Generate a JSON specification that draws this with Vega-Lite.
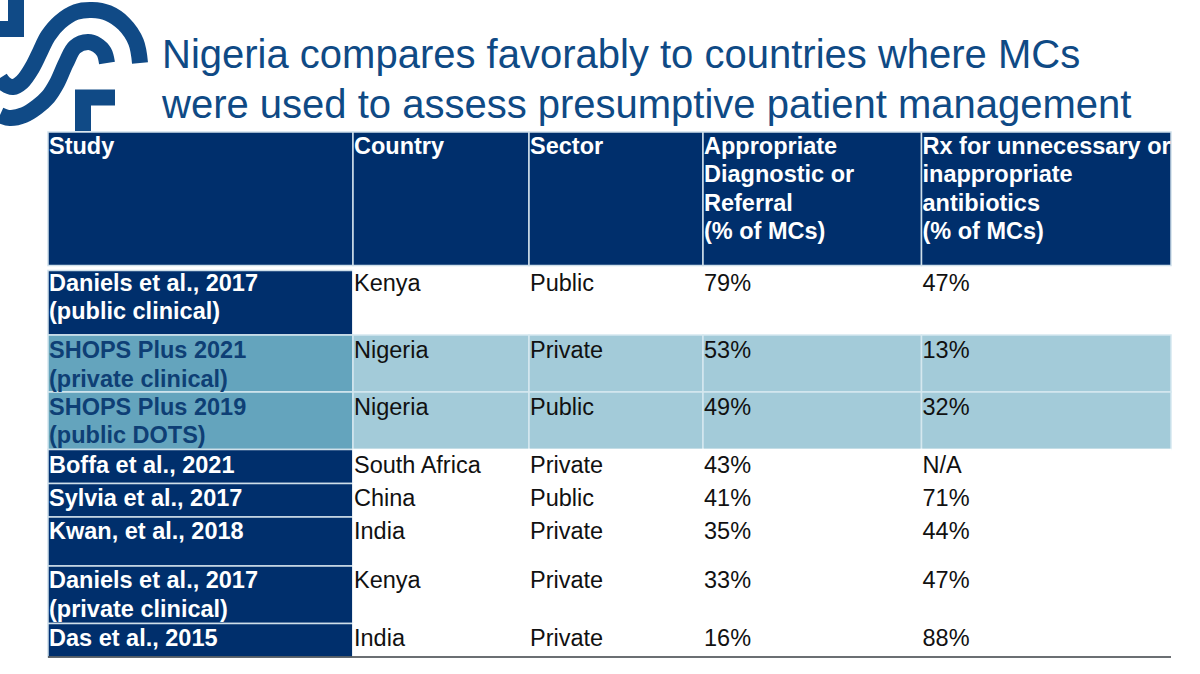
{"$schema":"https://vega.github.io/schema/vega-lite/v6.json","width":1200,"height":674,"padding":0,"autosize":"none","background":"white","config":{"view":{"stroke":null}},
"title":{"text":["Nigeria compares favorably to countries where MCs","were used to assess presumptive patient management"],"anchor":"start","frame":"group","offset":0,"dx":162,"dy":190,"baseline":"alphabetic","font":"Liberation Sans","fontSize":40,"fontWeight":"normal","color":"#0f4a85","lineHeight":50},
"datasets":{
"cells":[
{"row":0,"rowEnd":0.9,"col":0,"colEnd":1,"kind":"header","label":"Study"},
{"row":0,"rowEnd":0.9,"col":1,"colEnd":2,"kind":"header","label":"Country"},
{"row":0,"rowEnd":0.9,"col":2,"colEnd":3,"kind":"header","label":"Sector"},
{"row":0,"rowEnd":0.9,"col":3,"colEnd":4,"kind":"header","label":"Appropriate\nDiagnostic or\nReferral\n(% of MCs)"},
{"row":0,"rowEnd":0.9,"col":4,"colEnd":5,"kind":"header","label":"Rx for unnecessary or\ninappropriate\nantibiotics\n(% of MCs)"},
{"row":1,"rowEnd":2,"col":0,"colEnd":1,"kind":"study","label":"Daniels et al., 2017\n(public clinical)"},
{"row":1,"rowEnd":2,"col":1,"colEnd":2,"kind":"plain","label":"Kenya"},
{"row":1,"rowEnd":2,"col":2,"colEnd":3,"kind":"plain","label":"Public"},
{"row":1,"rowEnd":2,"col":3,"colEnd":4,"kind":"plain","label":"79%"},
{"row":1,"rowEnd":2,"col":4,"colEnd":5,"kind":"plain","label":"47%"},
{"row":2,"rowEnd":3,"col":0,"colEnd":1,"kind":"shops","label":"SHOPS Plus 2021\n(private clinical)"},
{"row":2,"rowEnd":3,"col":1,"colEnd":2,"kind":"shopsCell","label":"Nigeria"},
{"row":2,"rowEnd":3,"col":2,"colEnd":3,"kind":"shopsCell","label":"Private"},
{"row":2,"rowEnd":3,"col":3,"colEnd":4,"kind":"shopsCell","label":"53%"},
{"row":2,"rowEnd":3,"col":4,"colEnd":5,"kind":"shopsCell","label":"13%"},
{"row":3,"rowEnd":4,"col":0,"colEnd":1,"kind":"shops","label":"SHOPS Plus 2019\n(public DOTS)"},
{"row":3,"rowEnd":4,"col":1,"colEnd":2,"kind":"shopsCell","label":"Nigeria"},
{"row":3,"rowEnd":4,"col":2,"colEnd":3,"kind":"shopsCell","label":"Public"},
{"row":3,"rowEnd":4,"col":3,"colEnd":4,"kind":"shopsCell","label":"49%"},
{"row":3,"rowEnd":4,"col":4,"colEnd":5,"kind":"shopsCell","label":"32%"},
{"row":4,"rowEnd":5,"col":0,"colEnd":1,"kind":"study","label":"Boffa et al., 2021"},
{"row":4,"rowEnd":5,"col":1,"colEnd":2,"kind":"plain","label":"South Africa"},
{"row":4,"rowEnd":5,"col":2,"colEnd":3,"kind":"plain","label":"Private"},
{"row":4,"rowEnd":5,"col":3,"colEnd":4,"kind":"plain","label":"43%"},
{"row":4,"rowEnd":5,"col":4,"colEnd":5,"kind":"plain","label":"N/A"},
{"row":5,"rowEnd":6,"col":0,"colEnd":1,"kind":"study","label":"Sylvia et al., 2017"},
{"row":5,"rowEnd":6,"col":1,"colEnd":2,"kind":"plain","label":"China"},
{"row":5,"rowEnd":6,"col":2,"colEnd":3,"kind":"plain","label":"Public"},
{"row":5,"rowEnd":6,"col":3,"colEnd":4,"kind":"plain","label":"41%"},
{"row":5,"rowEnd":6,"col":4,"colEnd":5,"kind":"plain","label":"71%"},
{"row":6,"rowEnd":7,"col":0,"colEnd":1,"kind":"study","label":"Kwan, et al., 2018"},
{"row":6,"rowEnd":7,"col":1,"colEnd":2,"kind":"plain","label":"India"},
{"row":6,"rowEnd":7,"col":2,"colEnd":3,"kind":"plain","label":"Private"},
{"row":6,"rowEnd":7,"col":3,"colEnd":4,"kind":"plain","label":"35%"},
{"row":6,"rowEnd":7,"col":4,"colEnd":5,"kind":"plain","label":"44%"},
{"row":7,"rowEnd":8,"col":0,"colEnd":1,"kind":"study","label":"Daniels et al., 2017\n(private clinical)"},
{"row":7,"rowEnd":8,"col":1,"colEnd":2,"kind":"plain","label":"Kenya"},
{"row":7,"rowEnd":8,"col":2,"colEnd":3,"kind":"plain","label":"Private"},
{"row":7,"rowEnd":8,"col":3,"colEnd":4,"kind":"plain","label":"33%"},
{"row":7,"rowEnd":8,"col":4,"colEnd":5,"kind":"plain","label":"47%"},
{"row":8,"rowEnd":9,"col":0,"colEnd":1,"kind":"study","label":"Das et al., 2015"},
{"row":8,"rowEnd":9,"col":1,"colEnd":2,"kind":"plain","label":"India"},
{"row":8,"rowEnd":9,"col":2,"colEnd":3,"kind":"plain","label":"Private"},
{"row":8,"rowEnd":9,"col":3,"colEnd":4,"kind":"plain","label":"16%"},
{"row":8,"rowEnd":9,"col":4,"colEnd":5,"kind":"plain","label":"88%"}
],
"baseline":[{"row":9,"col":0,"colEnd":5}],
"logoCurves":[
{"part":"a","o":1,"px":140,"py":63},{"part":"a","o":2,"px":136,"py":42},{"part":"a","o":3,"px":124,"py":24},{"part":"a","o":4,"px":108,"py":13},{"part":"a","o":5,"px":92,"py":10},{"part":"a","o":6,"px":76,"py":12},{"part":"a","o":7,"px":60,"py":22},{"part":"a","o":8,"px":48,"py":36},{"part":"a","o":9,"px":40,"py":52},{"part":"a","o":10,"px":32,"py":68},{"part":"a","o":11,"px":22,"py":82},{"part":"a","o":12,"px":13,"py":87},{"part":"a","o":13,"px":5,"py":84},{"part":"a","o":14,"px":0,"py":78},
{"part":"b","o":1,"px":107,"py":63},{"part":"b","o":2,"px":104,"py":52},{"part":"b","o":3,"px":97,"py":45},{"part":"b","o":4,"px":88,"py":42},{"part":"b","o":5,"px":75,"py":47},{"part":"b","o":6,"px":66,"py":63},{"part":"b","o":7,"px":57,"py":83},{"part":"b","o":8,"px":48,"py":97},{"part":"b","o":9,"px":37,"py":107},{"part":"b","o":10,"px":24,"py":115},{"part":"b","o":11,"px":10,"py":118},{"part":"b","o":12,"px":0,"py":115}
],
"logoBlocks":[
{"part":"c","o":1,"px":16,"py":0},{"part":"c","o":2,"px":16,"py":29},{"part":"c","o":3,"px":0,"py":29},
{"part":"d","o":1,"px":83,"py":131},{"part":"d","o":2,"px":83,"py":97.5},{"part":"d","o":3,"px":115,"py":97.5}
]},
"resolve":{"scale":{"x":"independent","y":"independent","fill":"independent","stroke":"independent"}},
"layer":[
{"data":{"name":"logoCurves"},"mark":{"type":"line","interpolate":"catmull-rom","strokeWidth":16,"color":"#104a86","clip":false},
"encoding":{"x":{"field":"px","type":"quantitative","axis":null,"scale":{"domain":[0,1200],"range":[0,1200],"nice":false,"zero":false}},"y":{"field":"py","type":"quantitative","axis":null,"scale":{"domain":[0,674],"range":[0,674],"nice":false,"zero":false}},"detail":{"field":"part"},"order":{"field":"o","type":"quantitative"}}},
{"data":{"name":"logoBlocks"},"mark":{"type":"line","interpolate":"linear","strokeWidth":16,"strokeJoin":"miter","color":"#104a86"},
"encoding":{"x":{"field":"px","type":"quantitative","axis":null,"scale":{"domain":[0,1200],"range":[0,1200],"nice":false,"zero":false}},"y":{"field":"py","type":"quantitative","axis":null,"scale":{"domain":[0,674],"range":[0,674],"nice":false,"zero":false}},"detail":{"field":"part"},"order":{"field":"o","type":"quantitative"}}},
{"data":{"name":"cells"},"mark":{"type":"rect","strokeWidth":1.5},
"encoding":{
"x":{"field":"col","type":"quantitative","axis":null,"scale":{"domain":[0,1,2,3,4,5],"range":[48,353,529,703,921.5,1171],"nice":false,"zero":false}},"x2":{"field":"colEnd"},
"y":{"field":"row","type":"quantitative","axis":null,"scale":{"domain":[0,0.9,1,2,3,4,5,6,7,8,9],"range":[132,265.5,270.5,335,392,449.5,483.5,517,566,623.5,657],"nice":false,"zero":false}},"y2":{"field":"rowEnd"},
"fill":{"field":"kind","type":"nominal","legend":null,"scale":{"domain":["header","study","shops","shopsCell","plain"],"range":["#002f6c","#002f6c","#64a4bd","#a3cbd9","#ffffff"]}},
"stroke":{"field":"kind","type":"nominal","legend":null,"scale":{"domain":["header","study","shops","shopsCell","plain"],"range":["#cfe0ea","#cfe0ea","#d5e8ef","#d5e8ef","#ffffff"]}}}},
{"data":{"name":"baseline"},"mark":{"type":"rule","color":"#3a3f45","strokeWidth":1.5},
"encoding":{
"x":{"field":"col","type":"quantitative","axis":null,"scale":{"domain":[0,1,2,3,4,5],"range":[48,353,529,703,921.5,1171],"nice":false,"zero":false}},"x2":{"field":"colEnd"},
"y":{"field":"row","type":"quantitative","axis":null,"scale":{"domain":[0,0.9,1,2,3,4,5,6,7,8,9],"range":[132,265.5,270.5,335,392,449.5,483.5,517,566,623.5,657],"nice":false,"zero":false}}}},
{"data":{"name":"cells"},"transform":[{"filter":{"field":"kind","oneOf":["header","study","shops"]}}],
"mark":{"type":"text","align":"left","baseline":"alphabetic","dx":1,"font":"Liberation Sans","fontSize":23.5,"fontWeight":"bold","lineBreak":"\n","lineHeight":28.5},
"encoding":{
"x":{"field":"col","type":"quantitative","axis":null,"scale":{"domain":[0,1,2,3,4,5],"range":[48,353,529,703,921.5,1171],"nice":false,"zero":false}},
"y":{"field":"row","type":"quantitative","axis":null,"scale":{"domain":[0,1,2,3,4,5,6,7,8],"range":[153.5,290.5,358,414.5,473,505.5,539,588,646],"nice":false,"zero":false}},
"text":{"field":"label"},
"fill":{"field":"kind","type":"nominal","legend":null,"scale":{"domain":["header","study","shops"],"range":["#ffffff","#ffffff","#0e3f75"]}}}},
{"data":{"name":"cells"},"transform":[{"filter":{"field":"kind","oneOf":["plain","shopsCell"]}}],
"mark":{"type":"text","align":"left","baseline":"alphabetic","dx":1,"font":"Liberation Sans","fontSize":23.5,"color":"#111111"},
"encoding":{
"x":{"field":"col","type":"quantitative","axis":null,"scale":{"domain":[0,1,2,3,4,5],"range":[48,353,529,703,921.5,1171],"nice":false,"zero":false}},
"y":{"field":"row","type":"quantitative","axis":null,"scale":{"domain":[0,1,2,3,4,5,6,7,8],"range":[153.5,290.5,358,414.5,473,505.5,539,588,646],"nice":false,"zero":false}},
"text":{"field":"label"}}}
]}
